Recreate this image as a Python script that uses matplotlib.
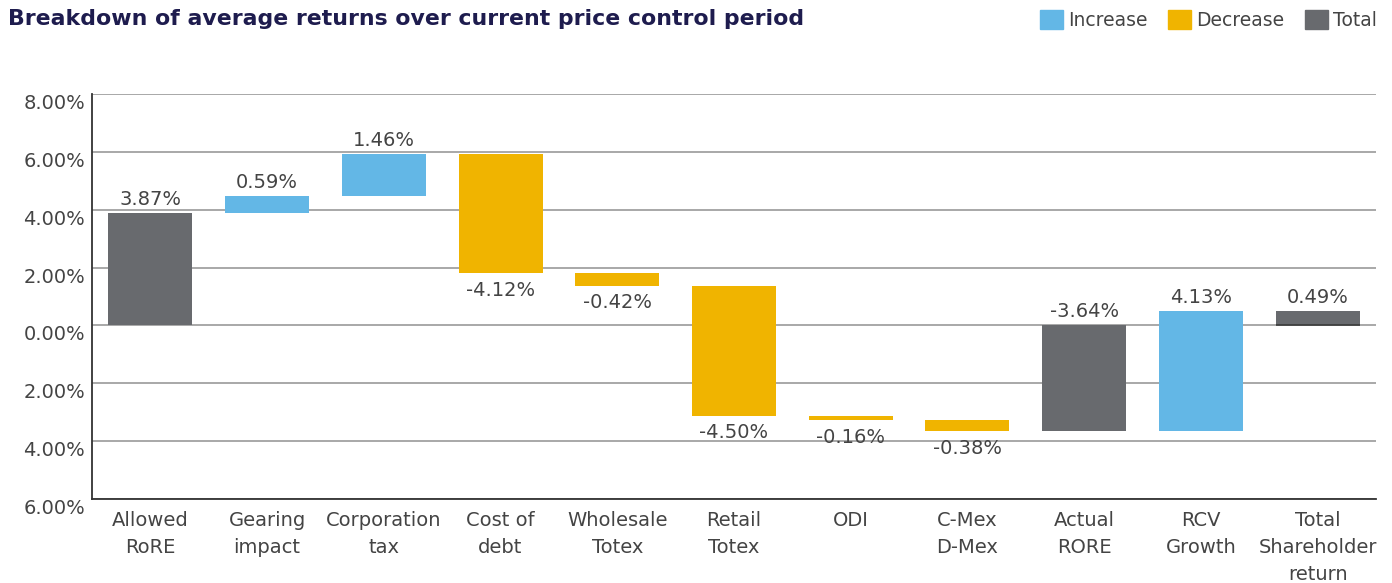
import numpy as np
import matplotlib
matplotlib.use("Agg")
import matplotlib.pyplot as plt
from matplotlib.patches import Patch
from matplotlib.ticker import FuncFormatter

plt.rcParams['font.family'] = ['DejaVu Sans']

# data
categories = ['Allowed\nRoRE', 'Gearing\nimpact', 'Corporation\ntax', 'Cost of\ndebt',
              'Wholesale\nTotex', 'Retail\nTotex', 'ODI', 'C-Mex\nD-Mex',
              'Actual\nRORE', 'RCV\nGrowth', 'Total\nShareholder\nreturn']
values = [3.87, 0.59, 1.46, -4.12, -0.42, -4.50, -0.16, -0.38, -3.64, 4.13, 0.49]
kinds = ['total', 'step', 'step', 'step', 'step', 'step', 'step', 'step', 'total', 'step', 'total']
y_ticks = [8, 6, 4, 2, 0, -2, -4, -6]

colors = {'up': '#63b7e6', 'down': '#f0b400', 'total': '#686a6e'}
text_col = '#444444'
fs = 14

# waterfall bases
bottoms, heights, cols = [], [], []
running = 0.0
for v, k in zip(values, kinds):
    if k == 'total':
        bottoms.append(0.0)
        heights.append(v)
        cols.append(colors['total'])
        running = v
    else:
        bottoms.append(running)
        heights.append(v)
        cols.append(colors['up'] if v > 0 else colors['down'])
        running += v

fig = plt.figure(figsize=(13.92, 5.83), dpi=100)
ax = fig.add_axes([92 / 1392, 1 - 499 / 583, (1376 - 92) / 1392, (499 - 94) / 583])

x = np.arange(len(categories))
ax.bar(x, heights, bottom=bottoms, width=0.72, color=cols, zorder=3)

# label each bar
for xi, b, h, v, k in zip(x, bottoms, heights, values, kinds):
    top = max(b, b + h)
    low = min(b, b + h)
    txt = f'{v:.2f}%'
    if k == 'total' or v > 0:
        ax.text(xi, top + 0.15, txt, ha='center', va='bottom', fontsize=fs,
                color=text_col, zorder=4)
    else:
        ax.text(xi, low - 0.25, txt, ha='center', va='top', fontsize=fs,
                color=text_col, zorder=4)

# dark baseline under the final total bar
ax.hlines(0, x[-1] - 0.36, x[-1] + 0.36, color='#3a3a3a', lw=1.2, zorder=4)

ax.set_xlim(-0.5, len(categories) - 0.5)
ax.set_ylim(-6, 8)
ax.set_yticks(y_ticks)
ax.yaxis.set_major_formatter(FuncFormatter(lambda v, p: f'{abs(v):.2f}%'))
ax.set_xticks(x)
ax.set_xticklabels(categories, fontsize=fs, color=text_col, linespacing=1.5)
ax.tick_params(axis='both', length=0, labelsize=fs, labelcolor=text_col)
ax.tick_params(axis='y', pad=5)
ax.tick_params(axis='x', pad=9)
for lbl in ax.get_yticklabels():
    lbl.set_va('top')

ax.grid(axis='y', color='#9a9a9a', lw=1.2, zorder=0)
for s in ['top', 'right']:
    ax.spines[s].set_visible(False)
ax.spines['left'].set_color('#333333')
ax.spines['bottom'].set_color('#333333')
ax.spines['left'].set_linewidth(1.3)
ax.spines['bottom'].set_linewidth(1.3)

fig.text(8 / 1392, 1 - 19 / 583, 'Breakdown of average returns over current price control period',
         fontsize=15.8, fontweight='heavy', color='#1e1c4e', va='center', ha='left')

handles = [Patch(color=colors['up'], label='Increase'),
           Patch(color=colors['down'], label='Decrease'),
           Patch(color=colors['total'], label='Total')]
fig.legend(handles=handles, loc='upper right', bbox_to_anchor=(1.0015, 1.012), ncol=3,
           frameon=False, fontsize=13.5, handlelength=1.2, handleheight=1.2,
           handletextpad=0.3, columnspacing=1.1, labelcolor=text_col)

fig.savefig('out.png', dpi=100)
